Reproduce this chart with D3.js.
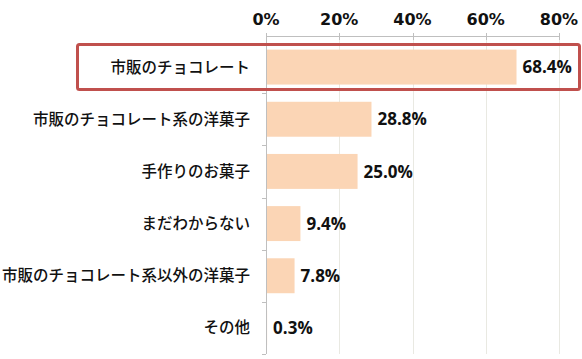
<!DOCTYPE html>
<html><head><meta charset="utf-8">
<script src="https://cdn.jsdelivr.net/npm/d3@7"></script>
<style>html,body{margin:0;padding:0;background:#fff;}svg{display:block;}</style>
</head><body>
<svg id="chart" width="582" height="359"></svg>
<script>
const categories = ["市販のチョコレート","市販のチョコレート系の洋菓子","手作りのお菓子","まだわからない","市販のチョコレート系以外の洋菓子","その他"];
const values = [68.4, 28.8, 25.0, 9.4, 7.8, 0.3];
const valueLabels = ["68.4%","28.8%","25.0%","9.4%","7.8%","0.3%"];
const tickValues = [0, 20, 40, 60, 80];
const tickLabels = ["0%","20%","40%","60%","80%"];
const highlighted = ["市販のチョコレート"];

const svg = d3.select("#chart");
const x = d3.scaleLinear().domain([0, 80]).range([266, 559]);
const y = d3.scaleBand().domain(categories).range([41, 354]).paddingInner(0.33).paddingOuter(0.165);
const yStep = y.step();

// gridlines
svg.append("g").selectAll("line").data(tickValues.slice(1)).join("line")
  .attr("x1", d => Math.round(x(d)) + 0.5).attr("x2", d => Math.round(x(d)) + 0.5)
  .attr("y1", 36).attr("y2", 354)
  .attr("stroke", "#e9e9e2").attr("stroke-width", 1);

// bars
svg.append("g").selectAll("rect").data(values).join("rect")
  .attr("x", x(0))
  .attr("y", (d, i) => y(categories[i]))
  .attr("width", d => x(d) - x(0))
  .attr("height", y.bandwidth())
  .attr("fill", "#fbd5b5");

// top axis
const gx = svg.append("g");
gx.append("line").attr("x1", x(0)).attr("x2", x(80)).attr("y1", 36.5).attr("y2", 36.5)
  .attr("stroke", "#bfbfbf").attr("stroke-width", 1);
gx.selectAll("line.tk").data(tickValues).join("line").attr("class", "tk")
  .attr("x1", d => Math.round(x(d)) + 0.5).attr("x2", d => Math.round(x(d)) + 0.5)
  .attr("y1", 33).attr("y2", 40)
  .attr("stroke", "#bfbfbf");
gx.selectAll("text").data(tickValues).join("text")
  .attr("x", d => x(d)).attr("y", 25)
  .attr("text-anchor", "middle")
  .attr("font-family", "DejaVu Sans")
  .attr("font-weight", "bold").attr("font-size", 16)
  .attr("fill", "#111")
  .text((d, i) => tickLabels[i]);

// left axis
const gy = svg.append("g");
gy.append("line").attr("x1", 266.5).attr("x2", 266.5).attr("y1", 36).attr("y2", 354)
  .attr("stroke", "#bfbfbf");
const bounds = categories.map(c => y(c) - y.paddingInner() * yStep / 2 + yStep);
gy.selectAll("line.tk").data(bounds).join("line").attr("class", "tk")
  .attr("x1", 262).attr("x2", 266)
  .attr("y1", d => Math.round(d) + 0.5).attr("y2", d => Math.round(d) + 0.5)
  .attr("stroke", "#bfbfbf");

// category labels
svg.append("g").selectAll("text").data(categories).join("text")
  .attr("x", 250)
  .attr("y", d => y(d) + y.bandwidth() / 2)
  .attr("dy", "0.36em")
  .attr("text-anchor", "end")
  .attr("font-family", "Noto Sans CJK JP")
  .attr("font-size", 15.5)
  .attr("font-weight", 500)
  .attr("fill", "#111")
  .text(d => d);

// value labels
svg.append("g").selectAll("text").data(values).join("text")
  .attr("x", d => x(d) + 6)
  .attr("y", (d, i) => y(categories[i]) + y.bandwidth() / 2)
  .attr("dy", "0.36em")
  .attr("font-family", "Open Sans")
  .attr("font-weight", "bold").attr("font-size", 17)
  .attr("fill", "#111")
  .text((d, i) => valueLabels[i]);

// highlight rectangle
svg.append("g").selectAll("rect").data(highlighted).join("rect")
  .attr("x", 77.5)
  .attr("y", d => y(d) - 5)
  .attr("width", 502)
  .attr("height", y.bandwidth() + 10)
  .attr("rx", 2)
  .attr("fill", "none")
  .attr("stroke", "#c0504d")
  .attr("stroke-width", 3);
</script>
</body></html>
